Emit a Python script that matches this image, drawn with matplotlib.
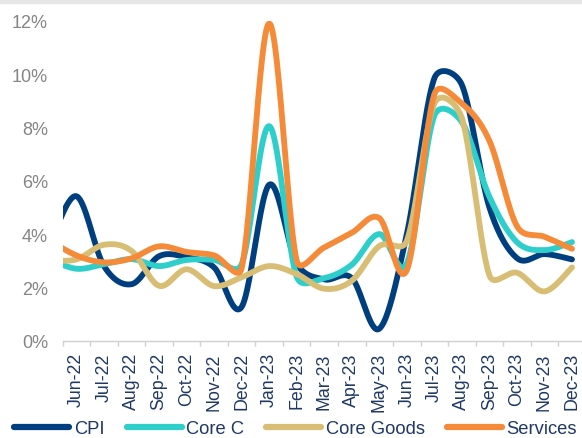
import numpy as np
import matplotlib
matplotlib.use("Agg")
import matplotlib.pyplot as plt
from matplotlib.patches import Rectangle

# Months shown on the axis; the series also carry a leading May-22 value
# (partly visible at the left edge, clipped by the axis).
months = ["Jun-22", "Jul-22", "Aug-22", "Sep-22", "Oct-22", "Nov-22", "Dec-22",
          "Jan-23", "Feb-23", "Mar-23", "Apr-23", "May-23", "Jun-23", "Jul-23",
          "Aug-23", "Sep-23", "Oct-23", "Nov-23", "Dec-23"]
lead_month = "May-22"

cpi = [3.5, 5.42, 2.8, 2.12, 3.17, 3.13, 2.75, 1.27, 5.85, 2.9, 2.3, 2.35, 0.45,
       4.0, 9.85, 9.6, 5.0, 3.1, 3.25, 3.05]
core_c = [3.06, 2.7, 2.87, 3.06, 2.8, 3.03, 3.03, 2.87, 8.05, 2.4, 2.35, 2.85, 4.0,
          2.9, 8.45, 8.2, 5.4, 3.7, 3.4, 3.7]
core_goods = [3.02, 3.05, 3.6, 3.37, 2.06, 2.68, 2.05, 2.38, 2.8, 2.5, 1.95, 2.25,
              3.55, 3.75, 8.9, 8.35, 2.45, 2.55, 1.85, 2.75]
services = [3.77, 3.2, 2.94, 3.09, 3.54, 3.33, 3.2, 2.72, 11.9, 3.0, 3.5, 4.05,
            4.6, 2.65, 9.25, 8.9, 7.5, 4.3, 3.9, 3.45]

series_names = ["CPI", "Core C", "Core Goods", "Services"]
series_values = [cpi, core_c, core_goods, services]
colors = ["#003F7F", "#2ECFCB", "#D8BE74", "#F58A38"]
y_ticks = [0, 2, 4, 6, 8, 10, 12]

W, H = 582, 439
CAT_PX = 27.53
AX_TOP, AX_BOT = 21.9, 341.7
Y_PX = (AX_BOT - AX_TOP) / 12.0


def excel_smooth(x, y, sx, sy, n=40):
    """Excel-style smoothed line: cubic Bezier segments with control arms of
    1/6 of the neighbour chord, limited to half of the segment length
    (computed in screen space)."""
    P = np.column_stack([np.asarray(x, float) * sx, np.asarray(y, float) * sy])
    N = len(P)
    out = []
    for i in range(N - 1):
        p0 = P[i - 1] if i > 0 else P[i]
        p1, p2 = P[i], P[i + 1]
        p3 = P[i + 2] if i + 2 < N else P[i + 1]
        d12 = np.linalg.norm(p2 - p1)
        a1 = (p2 - p0) / 6.0
        a2 = (p3 - p1) / 6.0
        for a in (a1, a2):
            la = np.linalg.norm(a)
            if la > d12 / 2 and la > 0:
                a *= (d12 / 2) / la
        c1, c2 = p1 + a1, p2 - a2
        t = np.linspace(0, 1, n, endpoint=(i == N - 2))[:, None]
        b = ((1 - t) ** 3) * p1 + 3 * ((1 - t) ** 2) * t * c1 \
            + 3 * (1 - t) * t * t * c2 + (t ** 3) * p2
        out.append(b)
    pts = np.vstack(out)
    return pts[:, 0] / sx, pts[:, 1] / sy


plt.rcParams['font.family'] = ['Liberation Sans', 'DejaVu Sans']

fig = plt.figure(figsize=(W / 100, H / 100), dpi=100)
fig.patches.append(Rectangle((0, 1 - 4 / H), 1, 4 / H, transform=fig.transFigure,
                             color="#E6E6E6", zorder=0))

ax_left = 62.7 / W
ax_bottom = (H - AX_BOT) / H
ax_w = 19 * CAT_PX / W
ax_h = (AX_BOT - AX_TOP) / H
ax = fig.add_axes([ax_left, ax_bottom, ax_w, ax_h])

xpos = np.arange(-1, len(months))
for name, vals, c in zip(series_names, series_values, colors):
    xs, ys = excel_smooth(xpos, vals, CAT_PX, Y_PX)
    ax.plot(xs, ys, color=c, lw=4.2, solid_capstyle="round",
            solid_joinstyle="round", label=name)

ax.set_xlim(-0.5, len(months) - 0.5)
ax.set_ylim(0, 12)

for s in ["top", "right", "left"]:
    ax.spines[s].set_visible(False)
ax.spines["bottom"].set_color("#D0D0D0")
ax.spines["bottom"].set_linewidth(1.0)

ax.set_xticks(np.arange(-0.5, len(months) - 0.5, 1.0))
ax.set_xticklabels([])
ax.tick_params(axis="x", which="major", length=3.5, color="#D0D0D0", width=1.0)
ax.set_xticks(np.arange(len(months)), minor=True)
ax.set_xticklabels(months, minor=True, rotation=90, fontsize=12.8, color="#1F3864")
ax.tick_params(axis="x", which="minor", length=0, pad=8.3)
for lab in ax.get_xticklabels(minor=True):
    lab.set_verticalalignment("top")

ax.set_yticks(y_ticks)
ax.set_yticklabels([f"{v}%" for v in y_ticks], fontsize=13, color="#858585")
ax.tick_params(axis="y", length=0, pad=10.5)

leg = fig.legend(loc="center", bbox_to_anchor=(0.508, 1 - 430 / H), ncol=4,
                 frameon=False, fontsize=13.2, handlelength=3.0, handletextpad=0.25,
                 columnspacing=1.2, borderaxespad=0, borderpad=0)
for t in leg.get_texts():
    t.set_color("#1F3864")
for h in leg.legend_handles:
    h.set_linewidth(4.5)

fig.savefig("out.png", dpi=100)
